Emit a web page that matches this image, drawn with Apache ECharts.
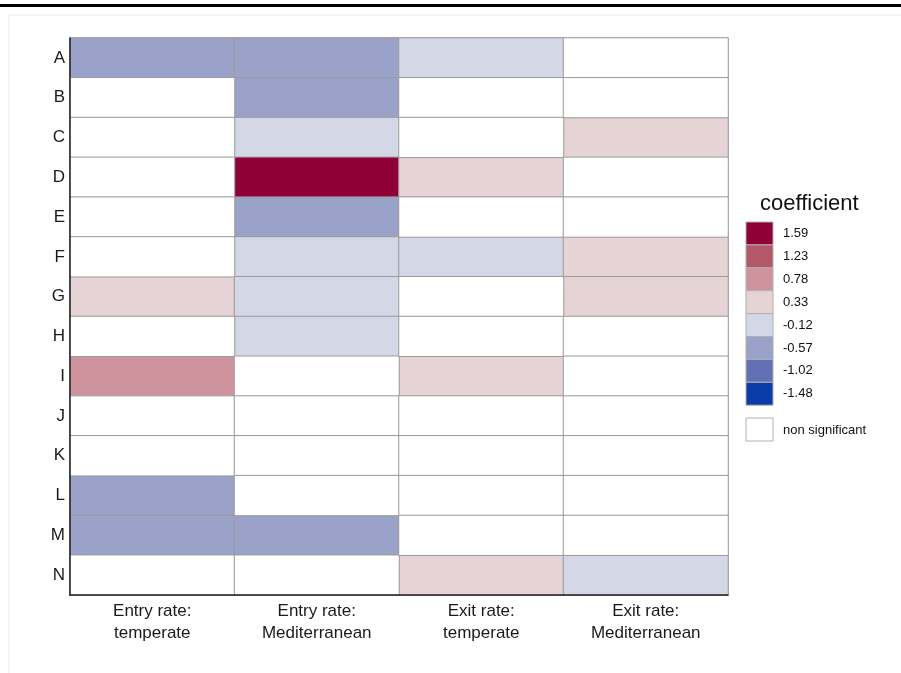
<!DOCTYPE html>
<html>
<head>
<meta charset="utf-8">
<script src="https://cdn.jsdelivr.net/npm/echarts@6/dist/echarts.min.js"></script>
<style>
  html, body { margin: 0; padding: 0; background: #fff; }
  #chart { width: 901px; height: 673px; }
</style>
</head>
<body>
<div id="chart"></div>
<script>
// Row and column categories
const rowLabels = ['A', 'B', 'C', 'D', 'E', 'F', 'G', 'H', 'I', 'J', 'K', 'L', 'M', 'N'];
const colLabels = ['Entry rate:\ntemperate', 'Entry rate:\nMediterranean', 'Exit rate:\ntemperate', 'Exit rate:\nMediterranean'];

// Coefficients per column (null = non significant)
const entryTemperate     = [-0.57, null, null, null, null, null, 0.33, null, 0.78, null, null, -0.57, -0.57, null];
const entryMediterranean = [-0.57, -0.57, -0.12, 1.59, -0.57, -0.12, -0.12, -0.12, null, null, null, null, -0.57, null];
const exitTemperate      = [-0.12, null, null, 0.33, null, -0.12, null, null, 0.33, null, null, null, null, 0.33];
const exitMediterranean  = [null, null, 0.33, null, null, 0.33, 0.33, null, null, null, null, null, null, -0.12];

// Colour scale breaks
const scaleValues = [1.59, 1.23, 0.78, 0.33, -0.12, -0.57, -1.02, -1.48];
const scaleColors = ['#8e0037', '#b35868', '#cf939e', '#e6d3d6', '#d3d7e6', '#9aa2c9', '#6371b4', '#0a3da8'];

const columns = [entryTemperate, entryMediterranean, exitTemperate, exitMediterranean];
const sigData = [];
const nsData = [];
columns.forEach((col, ci) => {
  col.forEach((v, ri) => {
    if (v === null) nsData.push([ci, ri, 0]);
    else sigData.push([ci, ri, v]);
  });
});

const chart = echarts.init(document.getElementById('chart'), null, { renderer: 'canvas' });

const FONT = 'Liberation Sans, Arial, sans-serif';

// Colour key drawn as graphic elements
const legendX = 746, legendTop = 222, swW = 27, swH = 22.9;
const legendGraphics = [
  { type: 'text', x: 760, y: 204, style: { text: 'coefficient', fontSize: 22, fontFamily: FONT, fill: '#111', verticalAlign: 'middle' } }
];
scaleValues.forEach((v, i) => {
  legendGraphics.push({
    type: 'rect', shape: { x: legendX, y: legendTop + i * swH, width: swW, height: swH },
    style: { fill: scaleColors[i], stroke: '#b0b0b0', lineWidth: 1 }
  });
  legendGraphics.push({
    type: 'text', x: 783, y: legendTop + i * swH + swH / 2,
    style: { text: v.toFixed(2), fontSize: 13, fontFamily: FONT, fill: '#111', verticalAlign: 'middle' }
  });
});
legendGraphics.push({
  type: 'rect', shape: { x: legendX, y: 418, width: swW, height: 23 },
  style: { fill: '#fff', stroke: '#b0b0b0', lineWidth: 1 }
});
legendGraphics.push({
  type: 'text', x: 783, y: 430,
  style: { text: 'non significant', fontSize: 13, fontFamily: FONT, fill: '#111', verticalAlign: 'middle' }
});

const option = {
  backgroundColor: '#fff',
  animation: false,
  textStyle: { fontFamily: FONT },
  grid: {
    left: 70, right: 173, top: 38, bottom: 78,
    show: true, borderColor: '#999', borderWidth: 1, backgroundColor: 'transparent'
  },
  xAxis: {
    type: 'category',
    data: colLabels,
    z: 10,
    axisLine: { show: true, lineStyle: { color: '#222', width: 1.5 } },
    axisTick: { show: false },
    splitLine: { show: false },
    axisLabel: { fontSize: 17, color: '#1a1a1a', lineHeight: 22, margin: 5, interval: 0 }
  },
  yAxis: {
    type: 'category',
    data: rowLabels,
    inverse: true,
    z: 10,
    axisLine: { show: true, lineStyle: { color: '#222', width: 1.5 } },
    axisTick: { show: false },
    splitLine: { show: false },
    axisLabel: { fontSize: 17, color: '#1a1a1a', margin: 5 }
  },
  visualMap: {
    show: false,
    type: 'piecewise',
    seriesIndex: 0,
    dimension: 2,
    pieces: scaleValues.map((v, i) => ({ value: v, color: scaleColors[i] }))
  },
  graphic: [
    { type: 'rect', shape: { x: 0, y: 4, width: 901, height: 3 }, style: { fill: '#000' }, z: 10 },
    { type: 'rect', shape: { x: 9, y: 15, width: 900, height: 700 }, style: { fill: 'none', stroke: '#e6ecea', lineWidth: 1 }, z: -1 }
  ].concat(legendGraphics),
  series: [
    {
      type: 'heatmap',
      data: sigData,
      itemStyle: { borderColor: '#9a9a9a', borderWidth: 1 },
      emphasis: { disabled: true }
    },
    {
      type: 'heatmap',
      data: nsData,
      itemStyle: { color: '#fff', borderColor: '#9a9a9a', borderWidth: 1 },
      emphasis: { disabled: true }
    }
  ]
};

chart.setOption(option);
</script>
</body>
</html>
